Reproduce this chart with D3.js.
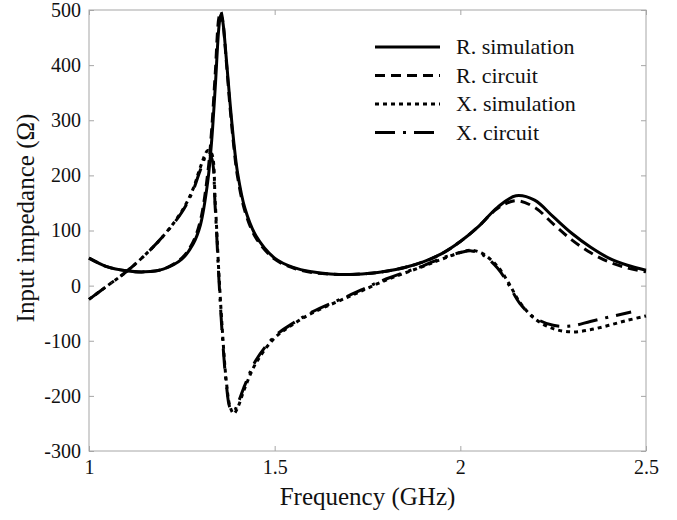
<!DOCTYPE html>
<html>
<head>
<meta charset="utf-8">
<script src="https://cdn.jsdelivr.net/npm/d3@7"></script>
<style>
  body { margin: 0; background: #fff; }
  svg { display: block; }
</style>
</head>
<body>
<div id="chart"></div>
<script>
// ---- data ----
const xTicks = [1, 1.5, 2, 2.5];
const xTickLabels = ["1", "1.5", "2", "2.5"];
const yTicks = [-300, -200, -100, 0, 100, 200, 300, 400, 500];

const rSimFreq = [1.00,1.05,1.10,1.15,1.20,1.25,1.28,1.30,1.32,1.33,1.34,1.35,1.355,1.36,1.37,1.38,1.39,1.40,1.42,1.45,1.50,1.55,1.60,1.65,1.70,1.75,1.80,1.85,1.90,1.95,2.00,2.05,2.10,2.15,2.20,2.25,2.30,2.35,2.40,2.45,2.50];
const rSimVal  = [50,34,27,25,30,48,75,110,190,260,360,470,492,480,410,330,260,205,140,90,50,33,25,21,20,22,26,33,43,58,80,108,142,163,155,125,95,70,50,37,28];

const rCirFreq = [1.00,1.05,1.10,1.15,1.20,1.25,1.28,1.30,1.32,1.33,1.34,1.35,1.355,1.36,1.37,1.38,1.39,1.40,1.42,1.45,1.50,1.55,1.60,1.65,1.70,1.75,1.80,1.85,1.90,1.95,2.00,2.05,2.10,2.15,2.20,2.25,2.30,2.35,2.40,2.45,2.50];
const rCirVal  = [50,34,27,25,30,50,79,118,205,280,385,487,497,482,405,322,252,198,135,86,48,32,24,21,20,22,26,33,43,58,80,108,140,154,142,112,83,60,43,32,25];

const xSimFreq = [1.00,1.05,1.10,1.15,1.20,1.25,1.28,1.30,1.32,1.33,1.34,1.35,1.36,1.37,1.38,1.39,1.40,1.42,1.45,1.50,1.55,1.60,1.70,1.80,1.90,1.95,2.00,2.03,2.06,2.10,2.13,2.16,2.20,2.25,2.30,2.35,2.40,2.45,2.50];
const xSimVal  = [-25,0,25,55,90,135,175,215,245,240,150,20,-90,-175,-220,-232,-222,-185,-140,-95,-70,-50,-20,10,35,48,60,64,58,35,5,-30,-60,-78,-84,-80,-72,-63,-55];

const xCirFreq = [1.00,1.05,1.10,1.15,1.20,1.25,1.28,1.30,1.32,1.33,1.34,1.35,1.36,1.37,1.38,1.39,1.40,1.42,1.45,1.50,1.55,1.60,1.70,1.80,1.90,1.95,2.00,2.03,2.06,2.10,2.13,2.16,2.20,2.25,2.30,2.35,2.40,2.46];
const xCirVal  = [-25,0,25,55,90,133,172,210,240,232,140,10,-100,-180,-222,-228,-215,-180,-135,-92,-68,-48,-18,12,36,50,60,63,56,32,2,-32,-58,-72,-73,-65,-57,-48];

const seriesNames = ["R. simulation", "R. circuit", "X. simulation", "X. circuit"];

// ---- layout ----
const W = 677, H = 520;
const margin = {left: 89, right: 31, top: 10, bottom: 69};
const serif = "Liberation Serif";

const svg = d3.select("#chart").append("svg")
    .attr("width", W).attr("height", H);

const x = d3.scaleLinear().domain([1, 2.5]).range([margin.left, W - margin.right]);
const y = d3.scaleLinear().domain([-300, 500]).range([H - margin.bottom, margin.top]);

const frame = "#a6a6a6";

// frame box
svg.append("rect")
    .attr("x", x(1)).attr("y", y(500))
    .attr("width", x(2.5) - x(1)).attr("height", y(-300) - y(500))
    .attr("fill", "none").attr("stroke", frame).attr("stroke-width", 1);

// axes (ticks inward, mirrored)
const tickLen = 5;
const styleAxis = g => {
    g.attr("font-family", serif).attr("font-size", 20);
    g.select(".domain").remove();
    g.selectAll(".tick line").attr("stroke", frame);
    g.selectAll(".tick text").attr("fill", "#111");
};

svg.append("g")
    .attr("transform", `translate(0,${y(-300)})`)
    .call(d3.axisBottom(x).tickValues(xTicks).tickFormat((d, i) => xTickLabels[i])
        .tickSizeInner(-tickLen).tickSizeOuter(0).tickPadding(9))
    .call(styleAxis);

svg.append("g")
    .attr("transform", `translate(0,${y(500)})`)
    .call(d3.axisTop(x).tickValues(xTicks).tickFormat("").tickSizeInner(-tickLen).tickSizeOuter(0))
    .call(styleAxis);

svg.append("g")
    .attr("transform", `translate(${x(1)},0)`)
    .call(d3.axisLeft(y).tickValues(yTicks).tickFormat(d => String(d))
        .tickSizeInner(-tickLen).tickSizeOuter(0).tickPadding(8))
    .call(styleAxis);

svg.append("g")
    .attr("transform", `translate(${x(2.5)},0)`)
    .call(d3.axisRight(y).tickValues(yTicks).tickFormat("").tickSizeInner(-tickLen).tickSizeOuter(0))
    .call(styleAxis);

// axis titles
svg.append("text")
    .attr("x", (x(1) + x(2.5)) / 2).attr("y", 505)
    .attr("text-anchor", "middle")
    .attr("font-family", serif)
    .attr("font-size", 25).attr("fill", "#111")
    .text("Frequency (GHz)");

svg.append("text")
    .attr("transform", "translate(34,218) rotate(-90)")
    .attr("text-anchor", "middle")
    .attr("font-family", serif)
    .attr("font-size", 25).attr("fill", "#111")
    .text("Input impedance (\u03A9)");

// curves
const dashes = [null, "10,6", "4,4", "20,8,3,8"];
const series = [
    [rSimFreq, rSimVal],
    [rCirFreq, rCirVal],
    [xSimFreq, xSimVal],
    [xCirFreq, xCirVal]
];

const line = d3.line()
    .x(d => x(d[0]))
    .y(d => y(d[1]))
    .curve(d3.curveCatmullRom.alpha(0.5));

const plot = svg.append("g");
series.forEach((s, i) => {
    const pts = s[0].map((f, k) => [f, s[1][k]]);
    plot.append("path")
        .datum(pts)
        .attr("d", line)
        .attr("fill", "none")
        .attr("stroke", "#000")
        .attr("stroke-width", 3)
        .attr("stroke-dasharray", dashes[i]);
});

// legend
const legend = svg.append("g");
seriesNames.forEach((name, i) => {
    const ly = 47 + i * 28.5;
    legend.append("line")
        .attr("x1", 375).attr("x2", 440)
        .attr("y1", ly).attr("y2", ly)
        .attr("stroke", "#000").attr("stroke-width", 3)
        .attr("stroke-dasharray", dashes[i]);
    legend.append("text")
        .attr("x", 456).attr("y", ly + 7)
        .attr("font-family", serif)
        .attr("font-size", 22).attr("fill", "#111")
        .text(name);
});
</script>
</body>
</html>
